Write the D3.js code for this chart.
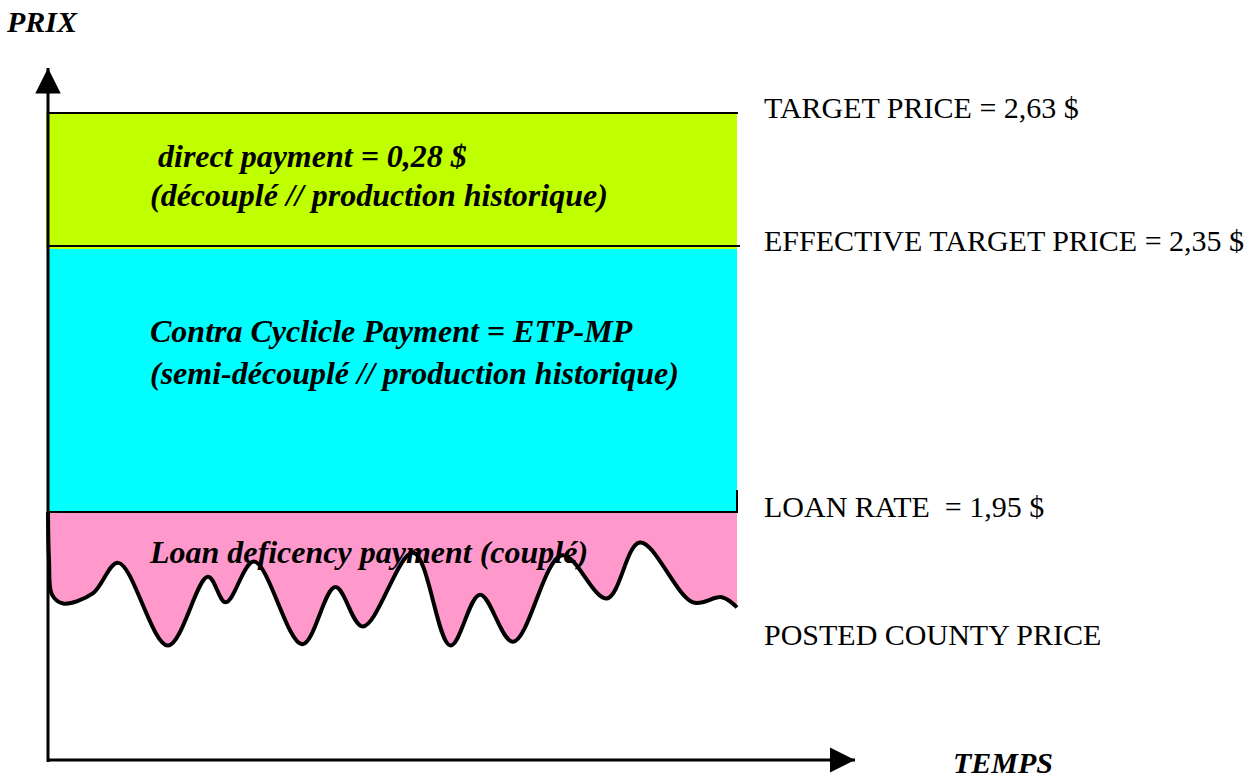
<!DOCTYPE html>
<html>
<head>
<meta charset="utf-8">
<script src="https://cdn.jsdelivr.net/npm/d3@7"></script>
<style>
  body { margin: 0; background: #fff; }
  text { font-family: "Liberation Serif", "Times New Roman", serif; }
  .bi { font-weight: bold; font-style: italic; }
</style>
</head>
<body>
<div id="chart"></div>
<script>
// price levels ($) of the US counter-cyclical scheme
const levelNames = ["TARGET PRICE = 2,63 $", "EFFECTIVE TARGET PRICE = 2,35 $", "LOAN RATE  = 1,95 $"];
const levelValues = [2.63, 2.35, 1.95];

// bands between levels
const bandColors = ["#c0ff00", "#00ffff", "#ff99cc"];
const bandTitles = [
    ["direct payment = 0,28 $", "(découplé // production historique)"],
    ["Contra Cyclicle Payment = ETP-MP", "(semi-découplé // production historique)"],
    ["Loan deficency payment (couplé)"]
];

// posted county price over time (time index 0..100, price in $)
const waveTime = [0, 0.15, 0.58, 2.2, 6.5, 10.2, 17.4, 23.2, 25.8, 29.9, 36.9, 41.7, 45.7, 53.0, 58.4, 62.7, 67.5, 74.6, 81.1, 85.9, 93.6, 97.8, 100];
const wavePrice = [1.95, 1.57, 1.30, 1.23, 1.31, 1.55, 0.90, 1.44, 1.24, 1.56, 0.91, 1.36, 1.05, 1.63, 0.90, 1.30, 0.93, 1.61, 1.27, 1.71, 1.24, 1.28, 1.20];

let width = 1255,
    height = 778;

let svg = d3.select("#chart").append("svg")
    .attr("width", width)
    .attr("height", height);

// schematic (non proportional) price scale
let y = d3.scaleLinear().domain([0, 1.95, 2.35, 2.63]).range([760, 512, 246, 113]);
let x = d3.scaleLinear().domain([0, 100]).range([48, 737]);

let defs = svg.append("defs");
defs.append("marker")
    .attr("id", "arrow")
    .attr("viewBox", "0 0 10 10")
    .attr("refX", 10)
    .attr("refY", 5)
    .attr("markerWidth", 8.5)
    .attr("markerHeight", 8.5)
    .attr("markerUnits", "strokeWidth")
    .attr("orient", "auto")
    .append("path")
    .attr("d", "M0,0L10,5L0,10Z")
    .attr("fill", "#000");

// green band
svg.append("rect")
    .attr("x", x(0) - 2)
    .attr("y", y(2.63))
    .attr("width", x(100) - x(0) + 2)
    .attr("height", y(2.35) - y(2.63) + 3)
    .attr("fill", bandColors[0]);

// cyan band
svg.append("rect")
    .attr("x", x(0))
    .attr("y", y(2.35) + 3)
    .attr("width", x(100) - x(0))
    .attr("height", y(1.95) - y(2.35) - 3)
    .attr("fill", bandColors[1]);

// pink area between loan rate and county price
let wave = waveTime.map((t, i) => ({t: t, p: wavePrice[i]}));

svg.append("path")
    .datum(wave)
    .attr("fill", bandColors[2])
    .attr("d", d3.area()
        .x(d => x(d.t))
        .y0(y(1.95))
        .y1(d => y(d.p))
        .curve(d3.curveCatmullRom));

// level lines
svg.selectAll(".level")
    .data(levelValues)
    .enter().append("line")
    .attr("class", "level")
    .attr("x1", x(0))
    .attr("x2", (d, i) => x(100) + (i === 1 ? 3 : 1))
    .attr("y1", d => y(d))
    .attr("y2", d => y(d))
    .attr("stroke", "#000")
    .attr("stroke-width", 2);

// small tick on right edge above loan rate
svg.append("line")
    .attr("x1", x(100)).attr("x2", x(100))
    .attr("y1", y(1.95) - 22).attr("y2", y(1.95))
    .attr("stroke", "#000")
    .attr("stroke-width", 2);

// band titles
let titleX = [158, 150, 150];
let titleY = [[167, 206], [342, 384], [563]];
bandTitles.forEach((lines, b) => {
    lines.forEach((s, k) => {
        svg.append("text")
            .attr("class", "bi")
            .attr("x", k === 0 ? titleX[b] : 150)
            .attr("y", titleY[b][k])
            .attr("font-size", 32)
            .text(s);
    });
});

// county price curve
svg.append("path")
    .datum(wave)
    .attr("fill", "none")
    .attr("stroke", "#000")
    .attr("stroke-width", 4)
    .attr("stroke-linejoin", "round")
    .attr("d", d3.line()
        .x(d => x(d.t))
        .y(d => y(d.p))
        .curve(d3.curveCatmullRom));

// axes
svg.append("line")
    .attr("x1", x(0)).attr("y1", y(0) + 2)
    .attr("x2", x(0)).attr("y2", 68)
    .attr("stroke", "#000")
    .attr("stroke-width", 3)
    .attr("marker-end", "url(#arrow)");

svg.append("line")
    .attr("x1", x(0) - 1).attr("y1", y(0))
    .attr("x2", 855).attr("y2", y(0))
    .attr("stroke", "#000")
    .attr("stroke-width", 3)
    .attr("marker-end", "url(#arrow)");

// right-hand labels
let labelY = levelValues.map(v => y(v) + 5);
svg.selectAll(".lvl-label")
    .data(levelNames)
    .enter().append("text")
    .attr("class", "lvl-label")
    .attr("x", 764)
    .attr("y", (d, i) => labelY[i])
    .attr("font-size", 30)
    .attr("xml:space", "preserve")
    .style("white-space", "pre")
    .text(d => d);

svg.append("text")
    .attr("x", 764)
    .attr("y", y(1.0) + 12)
    .attr("font-size", 30)
    .text("POSTED COUNTY PRICE");

// axis titles
svg.append("text")
    .attr("class", "bi")
    .attr("x", 7)
    .attr("y", 32)
    .attr("font-size", 30)
    .text("PRIX");

svg.append("text")
    .attr("class", "bi")
    .attr("x", 953)
    .attr("y", 773)
    .attr("font-size", 30)
    .text("TEMPS");
</script>
</body>
</html>
